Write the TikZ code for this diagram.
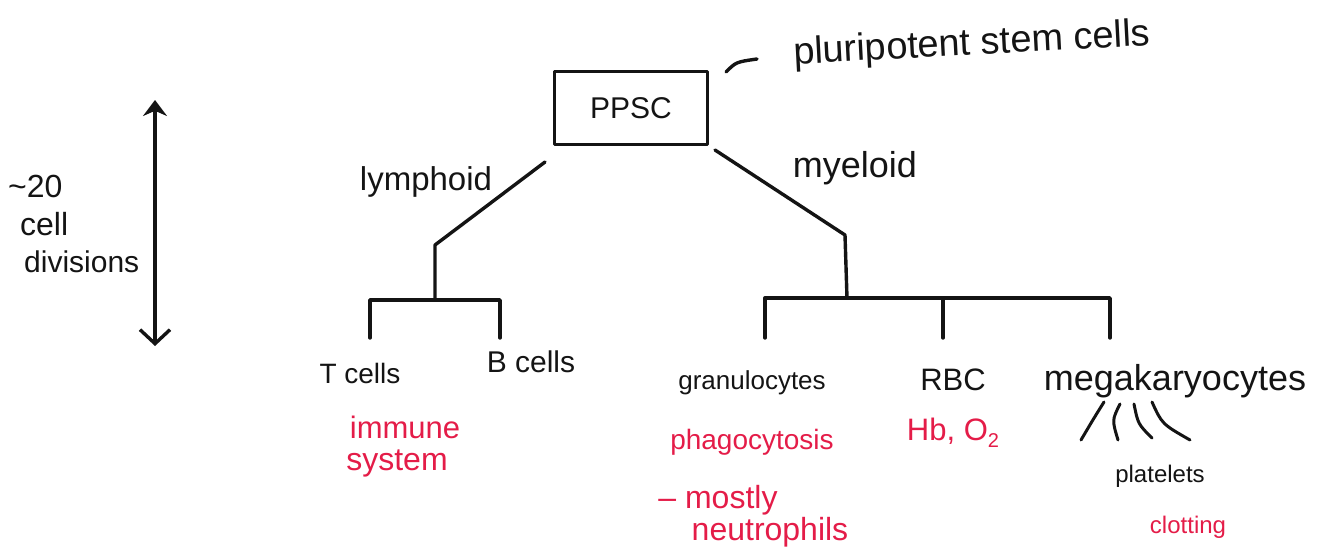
\documentclass[tikz,border=0pt]{standalone}
\usepackage{fontspec}
\setmainfont{Liberation Sans}
\usetikzlibrary{arrows.meta}
\definecolor{ink}{RGB}{20,20,20}
\definecolor{redink}{RGB}{228,28,72}
\newcommand{\fz}[1]{\fontsize{#1}{#1}\selectfont}
\tikzset{
  pen/.style={draw=ink, line width=3.4pt, line cap=round, line join=round},
  word/.style={text=ink, inner sep=0pt},
  note/.style={text=redink, inner sep=0pt},
  cellbox/.style={pen, minimum width=153pt, minimum height=73pt, inner sep=0pt, text=ink}
}
\begin{document}
\begin{tikzpicture}[x=1pt,y=-1pt]
\useasboundingbox (0,0) rectangle (1320,556);

% root stem cell box and its gloss
\node[cellbox] (ppsc) at (631,108) {\fz{30}PPSC};
\node[word, rotate=3] (psc) at (972,45) {\fz{38}pluripotent stem cells};
\coordinate (gl0) at (726,72);
\coordinate (gl1) at (757,59);
\draw[pen] (gl0) .. controls (736,62) .. (gl1);

% cell-division scale
\node[word, anchor=west] (n20) at (8,186) {\fz{32}\textasciitilde 20};
\node[word, anchor=west] (ncell) at (20,224) {\fz{32}cell};
\node[word, anchor=west] (ndiv) at (24,262) {\fz{30}divisions};
\coordinate (ar0) at (155,100);
\coordinate (ar1) at (155,346);
\draw[pen, {Stealth[length=16pt,width=24pt]}-{Straight Barb[length=14pt,width=30pt]}] (ar0) -- (ar1);

% lymphoid branch
\node[word] (lym) at (426,182) {\fz{33}lymphoid};
\coordinate (ly0) at (545,162);
\coordinate (ly1) at (435,245);
\coordinate (lyJ) at (435,300);
\draw[pen] (ly0) -- (ly1) -- (lyJ);
\coordinate (tcS) at (370,338);
\coordinate (bcS) at (500,338);
\draw[pen] (tcS) |- (lyJ) -| (bcS);
\node[word] (tc) at (360,373) {\fz{28}T cells};
\node[word] (bc) at (531,362) {\fz{30}B cells};
\node[note] (imm) at (405,427) {\fz{31}immune};
\node[note] (sys) at (397,463) {\fz{32}system};

% myeloid branch
\node[word] (mye) at (855,168) {\fz{36}myeloid};
\coordinate (my0) at (715,150);
\coordinate (my1) at (845,235);
\coordinate (myJ) at (847,298);
\draw[pen] (my0) -- (my1) -- (myJ);
\coordinate (grS) at (765,338);
\coordinate (rbS) at (943,338);
\coordinate (mkS) at (1110,338);
\coordinate (rbT) at (943,298);
\draw[pen] (grS) |- (myJ) -| (mkS);
\draw[pen] (rbT) -- (rbS);
\node[word] (gr) at (752,383) {\fz{26}granulocytes};
\node[word] (rbc) at (953,380) {\fz{31}RBC};
\node[word] (mk) at (1175,381) {\fz{36}megakaryocytes};

% functions of the myeloid cells
\node[note] (pha) at (752,442) {\fz{28}phagocytosis};
\node[note] (mos) at (718,500) {\fz{32}-- mostly};
\node[note] (neu) at (770,532) {\fz{32}neutrophils};
\node[note] (hb) at (953,433) {\fz{31}Hb, O\raisebox{-7pt}{\fz{20}2}};

% platelets budding off the megakaryocytes
\coordinate (p1a) at (1104,402); \coordinate (p1b) at (1081,440);
\coordinate (p2a) at (1120,404); \coordinate (p2b) at (1118,440);
\coordinate (p3a) at (1134,404); \coordinate (p3b) at (1152,438);
\coordinate (p4a) at (1152,402); \coordinate (p4b) at (1190,440);
\draw[pen, line width=3pt] (p1a) .. controls (1094,418) .. (p1b);
\draw[pen, line width=3pt] (p2a) .. controls (1112,420) .. (p2b);
\draw[pen, line width=3pt] (p3a) .. controls (1138,424) .. (p3b);
\draw[pen, line width=3pt] (p4a) .. controls (1162,424) .. (p4b);
\node[word] (pla) at (1160,476) {\fz{24}platelets};
\node[note] (clo) at (1188,527) {\fz{24}clotting};
\end{tikzpicture}
\end{document}
